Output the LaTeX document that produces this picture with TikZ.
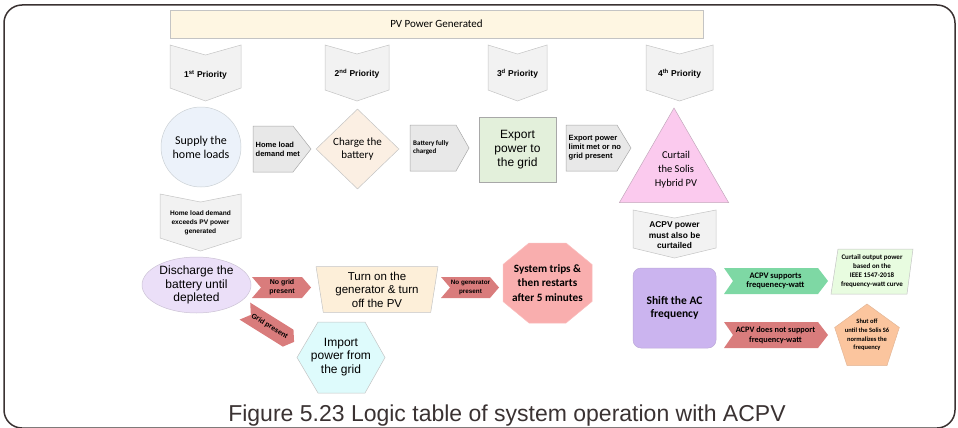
\documentclass[tikz,border=0pt]{standalone}
\usepackage{fontspec}
\setmainfont{Liberation Sans}
\newfontfamily\carl{Carlito}
\usetikzlibrary{shapes.geometric}
\definecolor{frameDark}{HTML}{3A3232}
\definecolor{titleFill}{HTML}{FEF6E2}
\definecolor{lineGray}{HTML}{C4C4C4}
\definecolor{prioGray}{HTML}{F2F2F2}
\definecolor{condGray}{HTML}{E8E8E8}
\definecolor{condLine}{HTML}{A8A8A8}
\definecolor{supplyFill}{HTML}{ECF2FA}
\definecolor{chargeFill}{HTML}{FBEFE3}
\definecolor{exportFill}{HTML}{E3F0DB}
\definecolor{curtailFill}{HTML}{FBCAEE}
\definecolor{dischargeFill}{HTML}{EBDFF8}
\definecolor{redArrow}{HTML}{D97C7C}
\definecolor{genFill}{HTML}{FDEFD9}
\definecolor{tripFill}{HTML}{F9AEAE}
\definecolor{importFill}{HTML}{DEFBFC}
\definecolor{shiftFill}{HTML}{CBB4EF}
\definecolor{greenArrow}{HTML}{7ED8A4}
\definecolor{curveFill}{HTML}{E8FCE0}
\definecolor{shutFill}{HTML}{FBC59E}
% #1 style, #2 centre x, #3 top, #4 width, #5 height, #6 notch, #7 tip
\newcommand{\chevdown}[7]{%
  \path[#1] ({#2-#4/2},#3) -- (#2,{#3+#6}) -- ({#2+#4/2},#3) -- ({#2+#4/2},{#3+#5-#7})
    -- (#2,{#3+#5}) -- ({#2-#4/2},{#3+#5-#7}) -- cycle;}
% #1 style, #2 left, #3 centre y, #4 width, #5 height, #6 notch, #7 tip
\newcommand{\arrowright}[7]{%
  \path[#1] (#2,{#3-#5/2}) -- ({#2+#4-#7},{#3-#5/2}) -- ({#2+#4},#3) -- ({#2+#4-#7},{#3+#5/2})
    -- (#2,{#3+#5/2}) -- ({#2+#6},#3) -- cycle;}

\begin{document}
\begin{tikzpicture}[
  x=1pt,y=-1pt,
  box/.style={draw=lineGray,line width=0.5pt,align=center,inner sep=0pt},
  prio/.style={draw=lineGray,line width=0.5pt,fill=prioGray},
  cond/.style={draw=condLine,line width=0.5pt,fill=condGray},
  redarrow/.style={fill=redArrow},
  prioText/.style={font=\bfseries\fontsize{8.5}{10}\selectfont},
  condText/.style={anchor=west,align=left,inner sep=0pt},
  arrowText/.style={align=center,inner sep=0pt,font=\bfseries\fontsize{7}{9}\selectfont},
  label/.style={align=center,inner sep=0pt},
  frame/.style={draw=frameDark,line width=1.5pt,rounded corners=18}
]
\useasboundingbox (0,0) rectangle (958,428);
\draw[frame] (4,5) rectangle (955,428);
% top bar and priorities
\node[box,fill=titleFill,minimum width=533,minimum height=28,font=\carl\fontsize{11}{12}\selectfont]
  (pv) at (436.5,24) {PV Power Generated};
\chevdown{prio}{205.5}{45}{71}{56}{10}{13}
\chevdown{prio}{357}{45}{64}{56}{9}{11}
\chevdown{prio}{517.5}{45}{59}{56}{9}{11}
\chevdown{prio}{679.5}{45}{67}{56}{9}{11}
\node[prioText] (p1) at (205.5,75) {1\textsuperscript{st} Priority};
\node[prioText] (p2) at (357,74) {2\textsuperscript{nd} Priority};
\node[prioText] (p3) at (517.5,74) {3\textsuperscript{d} Priority};
\node[prioText] (p4) at (679.5,74) {4\textsuperscript{th} Priority};
% second row
\node[box,circle,fill=supplyFill,draw=supplyFill!70!gray,minimum size=80,
  font=\carl\fontsize{12}{14}\selectfont] (supply) at (201,147) {Supply the\\home loads};
\arrowright{cond}{253}{149}{58}{46}{0}{18}
\node[condText,font=\bfseries\fontsize{7.5}{9}\selectfont] (met) at (255.5,149.5) {Home load\\demand met};
\node[box,diamond,fill=chargeFill,minimum width=83,minimum height=80,
  font=\carl\fontsize{11}{13.5}\selectfont] (charge) at (357.5,149) {Charge the\\battery};
\arrowright{cond}{410}{148}{59}{46}{0}{13}
\node[condText,font=\carl\bfseries\fontsize{7}{8}\selectfont] (full) at (413,148) {Battery fully\\charged};
\node[box,fill=exportFill,draw=condLine,minimum width=77,minimum height=65,
  font=\fontsize{12}{14}\selectfont] (export) at (517.5,149.5) {Export\\power to\\the grid};
\arrowright{cond}{566}{148}{65}{46}{0}{14}
\node[condText,font=\bfseries\fontsize{7.6}{9}\selectfont] (limit) at (568.5,147.5)
  {Export power\\limit met or no\\grid present};
\node[box,regular polygon,regular polygon sides=3,minimum size=126,fill=curtailFill,
  draw=curtailFill!55!gray] (curtail) at (674,171) {};
\node[label,font=\carl\fontsize{10.5}{14}\selectfont] (curtailText) at (676,170)
  {Curtail\\the Solis\\Hybrid PV};
% third row
\chevdown{prio}{200.5}{194}{81}{57}{8}{13}
\node[label,font=\bfseries\fontsize{6.6}{9}\selectfont] (exceed) at (200.5,223)
  {Home load demand\\exceeds PV power\\generated};
\node[box,ellipse,fill=dischargeFill,draw=dischargeFill!70!gray,minimum width=109,
  minimum height=56,font=\fontsize{12}{13.5}\selectfont] (discharge) at (196.5,285)
  {Discharge the\\battery until\\depleted};
\arrowright{redarrow}{252}{287.5}{59}{21}{9}{9}
\node[arrowText] (nogrid) at (282,287.5) {No grid\\present};
\node[box,trapezium,trapezium left angle=99,trapezium right angle=99,fill=genFill,
  minimum width=122,minimum height=45,font=\fontsize{11.5}{13.5}\selectfont] (gen) at (377,289.5)
  {Turn on the\\generator \& turn\\off the PV};
\arrowright{redarrow}{441}{287.5}{58}{21}{9}{9}
\node[arrowText,font=\bfseries\fontsize{6.3}{9}\selectfont] (nogen) at (470.5,287.5)
  {No generator\\present};
\path[box,fill=tripFill,draw=tripFill!80!white] (529,243) -- (566,243) -- (592,264.5)
  -- (592,301.5) -- (566,323) -- (529,323) -- (503,301.5) -- (503,264.5) -- cycle;
\node[label,font=\carl\bfseries\fontsize{11.2}{14.5}\selectfont] (trips) at (547.5,283)
  {System trips \&\\then restarts\\after 5 minutes};
\begin{scope}[shift={(269.5,326.5)},rotate=-32]
  \arrowright{redarrow}{-29}{0}{58}{20}{7}{7}
  \node[arrowText,rotate=-32] (gridp) at (0,0) {Grid present};
\end{scope}
\path[box,fill=importFill] (318,322) -- (365,322) -- (385,357.5) -- (365,393) -- (318,393)
  -- (297,357.5) -- cycle;
\node[label,font=\fontsize{12}{13.5}\selectfont] (import) at (341,357) {Import\\power from\\the grid};
% ACPV branch
\chevdown{prio}{674.5}{210}{83}{48}{8}{10}
\node[label,font=\bfseries\fontsize{8.4}{10.5}\selectfont] (acpv) at (674.5,235.5)
  {ACPV power\\must also be\\curtailed};
\node[box,rounded corners=8,fill=shiftFill,draw=shiftFill!80!gray,minimum width=83,
  minimum height=80,font=\carl\bfseries\fontsize{11.5}{13.5}\selectfont] (shift) at (674.5,308)
  {Shift the AC\\frequency};
\arrowright{fill=greenArrow}{724}{281}{104}{26}{9}{10}
\node[arrowText,font=\carl\bfseries\fontsize{8.5}{9.5}\selectfont] (supports) at (775.5,281)
  {ACPV supports\\frequenecy-watt};
\arrowright{redarrow}{724}{335}{104}{26}{9}{10}
\node[arrowText,font=\carl\bfseries\fontsize{8.3}{9.5}\selectfont] (notsupp) at (775.5,335)
  {ACPV does not support\\frequency-watt};
\path[box,fill=curveFill] (838,249) -- (913,249) -- (907,294) -- (831,294) -- cycle;
\node[label,font=\carl\bfseries\fontsize{7}{9}\selectfont] (fwcurve) at (872,271.5)
  {Curtail output power\\based on the\\IEEE 1547-2018\\frequency-watt curve};
\node[box,regular polygon,regular polygon sides=5,minimum size=68,fill=shutFill,
  draw=shutFill!80!gray] (shutoff) at (867,338) {};
\node[label,font=\carl\bfseries\fontsize{6.5}{8.7}\selectfont] (shutText) at (867,335)
  {Shut off\\until the Solis S6\\normalizes the\\frequency};
% caption
\node[anchor=base,font=\fontsize{23}{26}\selectfont,text=frameDark] (caption) at (507,421)
  {Figure 5.23 Logic table of system operation with ACPV};
\end{tikzpicture}
\end{document}
